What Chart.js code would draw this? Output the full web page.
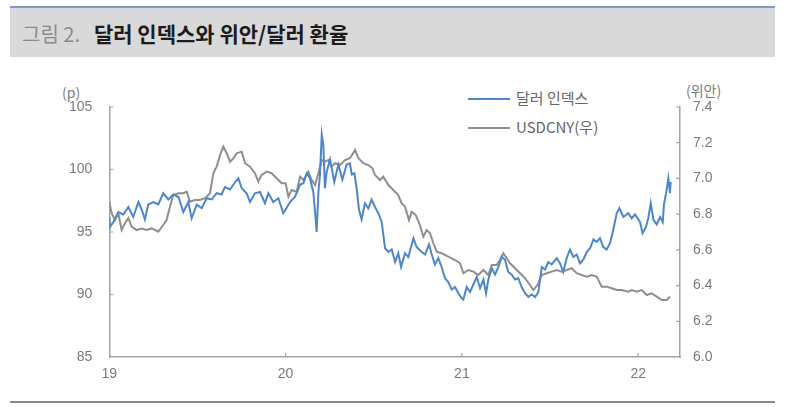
<!DOCTYPE html>
<html>
<head>
<meta charset="utf-8">
<script src="https://cdn.jsdelivr.net/npm/chart.js@4"></script>
<style>
  html, body { margin: 0; padding: 0; background: #fff; }
  body { width: 800px; height: 407px; position: relative; overflow: hidden; font-family: 'Liberation Sans', Arial, 'Noto Sans CJK KR', sans-serif; }
  #chart { position: absolute; left: 0; top: 0; }
  .band { position: absolute; left: 10px; top: 6px; width: 765px; height: 51px; background: #d9d9d9; border-top: 2px solid #7d9cc4; box-sizing: border-box; }
  .title { position: absolute; left: 22px; top: 19px; font-size: 20px; line-height: 28px; white-space: nowrap; font-family: 'Noto Sans CJK KR', sans-serif; }
  .title .num { color: #8c8c8c; }
  .title .main { color: #1c1c1c; font-weight: bold; font-size: 21px; margin-left: 14px; }
  .rule { position: absolute; left: 10px; top: 401px; width: 765px; height: 2px; background: #8a8a8a; }
  .unit { position: absolute; font-size: 14px; color: #7a7a7a; font-family: 'Noto Sans CJK KR', 'Liberation Sans', sans-serif; line-height: 16px; }
  .legend { position: absolute; left: 468px; font-size: 15px; color: #666; line-height: 18px; white-space: nowrap; font-family: 'Noto Sans CJK KR', 'Liberation Sans', sans-serif; }
  .legend i { display: inline-block; width: 42px; height: 2px; vertical-align: middle; margin-right: 6px; position: relative; top: -1px; }
</style>
</head>
<body>
<div class="band"></div>
<div class="title"><span class="num">그림 2.</span><span class="main">달러 인덱스와 위안/달러 환율</span></div>
<div class="unit" style="left:62px; top:84px;">(p)</div>
<div class="unit" style="left:686px; top:82px;">(위안)</div>
<div class="legend" style="top:89px;"><i style="background:#4d87c9"></i>달러 인덱스</div>
<div class="legend" style="top:118px;"><i style="background:#8f8f8f"></i>USDCNY(우)</div>
<canvas id="chart" width="800" height="407"></canvas>
<div class="rule"></div>
<script>
// x values are decimal years (19 = Jan 2019)
const dxyX = [
  19.000, 19.004, 19.023, 19.051, 19.080, 19.108, 19.136, 19.165, 19.184, 19.202,
  19.221, 19.250, 19.278, 19.306, 19.335, 19.363, 19.392, 19.420, 19.448, 19.467,
  19.496, 19.524, 19.552, 19.581, 19.609, 19.637, 19.656, 19.685, 19.704, 19.732,
  19.751, 19.779, 19.798, 19.826, 19.855, 19.883, 19.902, 19.930, 19.959, 19.987,
  20.000, 20.025, 20.053, 20.082, 20.101, 20.120, 20.138, 20.157, 20.167, 20.176,
  20.186, 20.195, 20.205, 20.214, 20.223, 20.233, 20.252, 20.276, 20.299, 20.322,
  20.346, 20.365, 20.375, 20.390, 20.403, 20.416, 20.431, 20.450, 20.469, 20.488,
  20.507, 20.526, 20.545, 20.564, 20.583, 20.602, 20.621, 20.639, 20.655, 20.677,
  20.696, 20.725, 20.743, 20.772, 20.791, 20.813, 20.829, 20.847, 20.866, 20.885,
  20.904, 20.923, 20.942, 20.961, 20.980, 20.999, 21.008, 21.027, 21.046, 21.065,
  21.084, 21.103, 21.122, 21.137, 21.150, 21.169, 21.188, 21.207, 21.226, 21.244,
  21.263, 21.282, 21.301, 21.320, 21.339, 21.358, 21.377, 21.396, 21.415, 21.434,
  21.453, 21.471, 21.490, 21.509, 21.538, 21.556, 21.575, 21.594, 21.613, 21.632,
  21.651, 21.670, 21.689, 21.708, 21.727, 21.746, 21.764, 21.783, 21.802, 21.821,
  21.840, 21.859, 21.878, 21.893, 21.916, 21.944, 21.963, 21.982, 22.010, 22.025,
  22.044, 22.057, 22.071, 22.086, 22.105, 22.124, 22.139, 22.146, 22.158, 22.171,
  22.180, 22.184
]
const dxyY = [
  96.2, 95.4, 95.8, 96.6, 96.4, 97.0, 96.2, 97.4, 96.8, 96.0,
  97.2, 97.4, 97.2, 98.1, 97.6, 98.0, 97.8, 96.6, 97.4, 96.1,
  97.2, 96.9, 97.7, 97.6, 98.1, 98.0, 98.6, 98.4, 98.8, 99.3,
  98.5, 98.1, 97.4, 98.1, 98.2, 97.3, 98.1, 97.4, 97.7, 96.5,
  96.8, 97.4, 97.8, 98.8, 98.9, 99.7, 99.3, 98.2, 96.6, 95.0,
  98.2, 99.6, 102.8, 102.0, 98.5, 99.8, 100.8, 99.0, 100.4, 99.2,
  100.4, 100.5, 99.6, 99.7, 98.5, 96.8, 96.0, 97.3, 96.9, 97.6,
  97.0, 96.5, 95.8, 93.7, 93.4, 93.6, 92.6, 93.3, 92.2, 93.3,
  93.0, 94.5, 93.8, 93.4, 93.2, 94.0, 93.2, 92.4, 92.9, 92.2,
  91.3, 91.0, 90.4, 90.6, 90.1, 89.7, 89.6, 90.6, 90.2, 90.8,
  91.4, 90.5, 91.2, 90.1, 91.2, 92.1, 91.6, 92.2, 93.0, 92.8,
  91.8, 91.6, 91.2, 91.3, 90.6, 90.1, 89.8, 90.0, 89.8, 90.2,
  92.2, 92.0, 92.6, 92.4, 92.9, 92.5, 91.8, 92.9, 93.6, 93.0,
  93.2, 92.5, 92.8, 93.4, 93.7, 94.4, 94.2, 94.5, 93.8, 93.6,
  94.1, 95.2, 96.5, 96.9, 96.2, 96.5, 96.1, 96.4, 95.8, 94.9,
  95.4, 96.1, 97.3, 96.0, 95.6, 96.2, 95.8, 97.2, 98.1, 99.3,
  98.1, 99.0
]
const cnyX = [
  19.000, 19.013, 19.032, 19.051, 19.070, 19.089, 19.108, 19.127, 19.155, 19.184,
  19.212, 19.240, 19.278, 19.306, 19.325, 19.344, 19.363, 19.392, 19.420, 19.439,
  19.458, 19.486, 19.514, 19.543, 19.571, 19.590, 19.609, 19.628, 19.647, 19.666,
  19.685, 19.704, 19.722, 19.751, 19.770, 19.798, 19.826, 19.845, 19.864, 19.893,
  19.921, 19.949, 19.978, 20.000, 20.016, 20.034, 20.063, 20.082, 20.101, 20.129,
  20.148, 20.167, 20.186, 20.205, 20.223, 20.242, 20.261, 20.280, 20.309, 20.337,
  20.365, 20.394, 20.413, 20.441, 20.469, 20.492, 20.507, 20.535, 20.554, 20.583,
  20.611, 20.639, 20.658, 20.677, 20.700, 20.715, 20.738, 20.762, 20.781, 20.800,
  20.819, 20.838, 20.857, 20.885, 20.923, 20.961, 20.989, 21.008, 21.036, 21.065,
  21.093, 21.122, 21.150, 21.169, 21.197, 21.216, 21.235, 21.254, 21.273, 21.301,
  21.330, 21.358, 21.386, 21.405, 21.428, 21.453, 21.481, 21.509, 21.538, 21.566,
  21.594, 21.623, 21.651, 21.679, 21.708, 21.736, 21.764, 21.793, 21.821, 21.850,
  21.878, 21.906, 21.944, 21.963, 21.991, 22.020, 22.048, 22.076, 22.105, 22.133,
  22.162, 22.180
]
const cnyY = [
  6.870, 6.805, 6.767, 6.805, 6.711, 6.749, 6.777, 6.730, 6.711, 6.720,
  6.711, 6.720, 6.702, 6.739, 6.767, 6.842, 6.907, 6.917, 6.917, 6.926,
  6.870, 6.879, 6.879, 6.889, 6.917, 7.029, 7.066, 7.131, 7.178, 7.141,
  7.094, 7.113, 7.141, 7.150, 7.085, 7.066, 7.029, 6.982, 7.019, 7.038,
  7.029, 7.001, 6.973, 6.973, 6.898, 6.935, 6.926, 7.010, 6.991, 7.038,
  6.991, 6.963, 7.029, 7.103, 7.094, 7.103, 7.066, 7.085, 7.075, 7.103,
  7.113, 7.159, 7.113, 7.085, 7.075, 7.057, 7.019, 6.991, 7.010, 6.963,
  6.935, 6.907, 6.861, 6.842, 6.767, 6.814, 6.795, 6.739, 6.674, 6.711,
  6.693, 6.637, 6.590, 6.581, 6.562, 6.543, 6.525, 6.469, 6.487, 6.478,
  6.459, 6.487, 6.459, 6.515, 6.515, 6.543, 6.581, 6.553, 6.525, 6.497,
  6.469, 6.441, 6.403, 6.375, 6.403, 6.459, 6.469, 6.478, 6.487, 6.478,
  6.487, 6.497, 6.469, 6.459, 6.450, 6.459, 6.450, 6.394, 6.394, 6.385,
  6.375, 6.375, 6.366, 6.375, 6.366, 6.375, 6.347, 6.357, 6.338, 6.319,
  6.319, 6.338
]
const xTicks = [19, 20, 21, 22]
const leftTicks = [85, 90, 95, 100, 105]
const rightTicks = [6.0, 6.2, 6.4, 6.6, 6.8, 7.0, 7.2, 7.4]

const axisColor = '#a3a3a3'
const tickFont = { family: "'Liberation Sans', Arial, sans-serif", size: 14 }

// small tick marks pointing into the plot
const innerTicks = {
  id: 'innerTicks',
  afterDraw(chart) {
    const { ctx, chartArea, scales } = chart
    ctx.save()
    ctx.strokeStyle = axisColor
    ctx.lineWidth = 1.2
    ctx.beginPath()
    xTicks.slice(1).forEach((v) => {
      const px = scales.x.getPixelForValue(v)
      ctx.moveTo(px, chartArea.bottom)
      ctx.lineTo(px, chartArea.bottom - 4)
    })
    leftTicks.slice(1).forEach((v) => {
      const py = scales.y.getPixelForValue(v)
      ctx.moveTo(chartArea.left, py)
      ctx.lineTo(chartArea.left + 4, py)
    })
    rightTicks.slice(1).forEach((v) => {
      const py = scales.y1.getPixelForValue(v)
      ctx.moveTo(chartArea.right, py)
      ctx.lineTo(chartArea.right - 4, py)
    })
    ctx.stroke()
    ctx.restore()
  },
}

function fixTicks(values) {
  return (axis) => {
    axis.ticks = values.map((value) => ({ value }))
  }
}

new Chart(document.getElementById('chart').getContext('2d'), {
  type: 'line',
  data: {
    datasets: [
      {
        label: '달러 인덱스',
        data: dxyX.map((x, i) => ({ x, y: dxyY[i] })),
        borderColor: '#4d87c9',
        borderWidth: 2,
        pointRadius: 0,
        yAxisID: 'y',
        order: 1,
      },
      {
        label: 'USDCNY(우)',
        data: cnyX.map((x, i) => ({ x, y: cnyY[i] })),
        borderColor: '#8f8f8f',
        borderWidth: 2,
        pointRadius: 0,
        yAxisID: 'y1',
        order: 2,
      },
    ],
  },
  options: {
    animation: false,
    responsive: false,
    devicePixelRatio: 1,
    layout: { padding: { top: 107, left: 0, right: 0, bottom: 0 } },
    plugins: { legend: { display: false }, tooltip: { enabled: false } },
    scales: {
      x: {
        type: 'linear',
        min: 19,
        max: 22.237,
        afterBuildTicks: fixTicks(xTicks),
        afterFit: (axis) => { axis.height = 50 },
        grid: { drawOnChartArea: false, drawTicks: false },
        border: { color: axisColor, width: 1.5 },
        ticks: { color: '#7a7a7a', font: tickFont, padding: 9, maxRotation: 0 },
      },
      y: {
        position: 'left',
        min: 85,
        max: 105,
        afterBuildTicks: fixTicks(leftTicks),
        afterFit: (axis) => { axis.width = 109.3 },
        grid: { drawOnChartArea: false, drawTicks: false },
        border: { color: axisColor, width: 1.5 },
        ticks: { color: '#7a7a7a', font: tickFont, padding: 17 },
      },
      y1: {
        position: 'right',
        min: 6.0,
        max: 7.4,
        afterBuildTicks: fixTicks(rightTicks),
        afterFit: (axis) => { axis.width = 120 },
        grid: { drawOnChartArea: false, drawTicks: false },
        border: { color: axisColor, width: 1.5 },
        ticks: {
          color: '#7a7a7a',
          font: tickFont,
          padding: 13,
          callback: (v) => Number(v).toFixed(1),
        },
      },
    },
  },
  plugins: [innerTicks],
})
</script>
</body>
</html>
